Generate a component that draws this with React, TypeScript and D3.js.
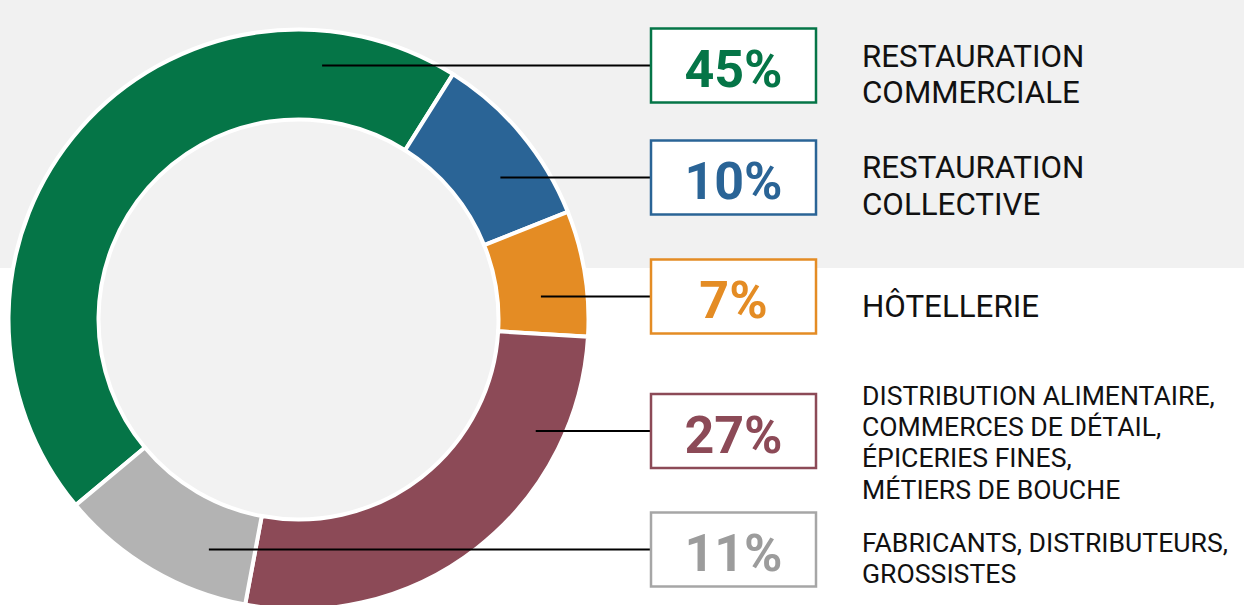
import React from "react";
import * as d3 from "d3";

// ---- Data ----
const categories = [
  "Restauration commerciale",
  "Restauration collective",
  "Hôtellerie",
  "Distribution alimentaire",
  "Fabricants",
];
const shares = [45, 10, 7, 27, 11];
const shareLabels = ["45%", "10%", "7%", "27%", "11%"];
const labelLines = [
  ["RESTAURATION", "COMMERCIALE"],
  ["RESTAURATION", "COLLECTIVE"],
  ["HÔTELLERIE"],
  ["DISTRIBUTION ALIMENTAIRE,", "COMMERCES DE DÉTAIL,", "ÉPICERIES FINES,", "MÉTIERS DE BOUCHE"],
  ["FABRICANTS, DISTRIBUTEURS,", "GROSSISTES"],
];
const sliceColors = ["#057547", "#2a6496", "#e48c24", "#8c4a57", "#b3b3b3"];
const textColors = ["#057547", "#2a6496", "#e48c24", "#8c4a57", "#9c9c9c"];
const boxStrokes = ["#057547", "#2a6496", "#e48c24", "#8c4a57", "#a6a6a6"];

// ---- Layout ----
const W = 1244;
const H = 605;
const cx = 298.5;
const cy = 319.5;
const outerR = 290;
const innerR = 200;
// where along each slice (0..1 of its angle) the leader line leaves the ring
const leaderFrac = [0.834, 0.63, 0.65, 0.224, 0.27];
const rowY = [65.5, 177.5, 296.5, 431, 549.5];
const labelY = [66.7, 178.3, 317.3, 405, 551.7];
const labelSize = [31.3, 31.3, 31.3, 26.6, 26.6];
const labelLH = [36, 37, 36, 31.2, 31.4];
const boxX = 651;
const boxW = 165;
const boxH = 74;
const labelX = 862;
const startDeg = -129.8;

export default function App() {
  const start = (startDeg * Math.PI) / 180;
  const pie = d3
    .pie<number>()
    .sort(null)
    .value((d) => d)
    .startAngle(start)
    .endAngle(start + 2 * Math.PI);
  const arcs = pie(shares);
  const arcGen = d3.arc<d3.PieArcDatum<number>>().innerRadius(innerR).outerRadius(outerR);

  return (
    <svg
      width={W}
      height={H}
      style={{ position: "absolute", left: 0, top: 0, background: "#ffffff" }}
      fontFamily="Roboto, 'DejaVu Sans', sans-serif"
    >
      <rect x={0} y={0} width={W} height={268} fill="#f1f1f1" />
      <circle cx={cx} cy={cy} r={innerR - 1} fill="#f2f2f2" />
      <g transform={`translate(${cx},${cy})`}>
        {arcs.map((a, i) => (
          <path key={categories[i]} d={arcGen(a) || ""} fill={sliceColors[i]} stroke="#ffffff" strokeWidth={4} />
        ))}
      </g>
      {arcs.map((a, i) => {
        const th = a.startAngle + leaderFrac[i] * (a.endAngle - a.startAngle);
        const r = (cy - rowY[i]) / Math.cos(th);
        const x0 = cx + r * Math.sin(th);
        return (
          <g key={"row" + i}>
            <line x1={x0} y1={rowY[i]} x2={boxX} y2={rowY[i]} stroke="#000" strokeWidth={2} />
            <rect
              x={boxX}
              y={rowY[i] - boxH / 2}
              width={boxW}
              height={boxH}
              fill="#ffffff"
              stroke={boxStrokes[i]}
              strokeWidth={2.5}
            />
            <text
              x={boxX + boxW / 2}
              y={rowY[i] + 21.5}
              textAnchor="middle"
              fontSize={52}
              fontWeight={700}
              fill={textColors[i]}
            >
              {shareLabels[i]}
            </text>
            <text x={labelX} y={labelY[i]} fontSize={labelSize[i]} fill="#111111">
              {labelLines[i].map((t, j) => (
                <tspan key={j} x={labelX} y={labelY[i] + j * labelLH[i]}>
                  {t}
                </tspan>
              ))}
            </text>
          </g>
        );
      })}
    </svg>
  );
}
